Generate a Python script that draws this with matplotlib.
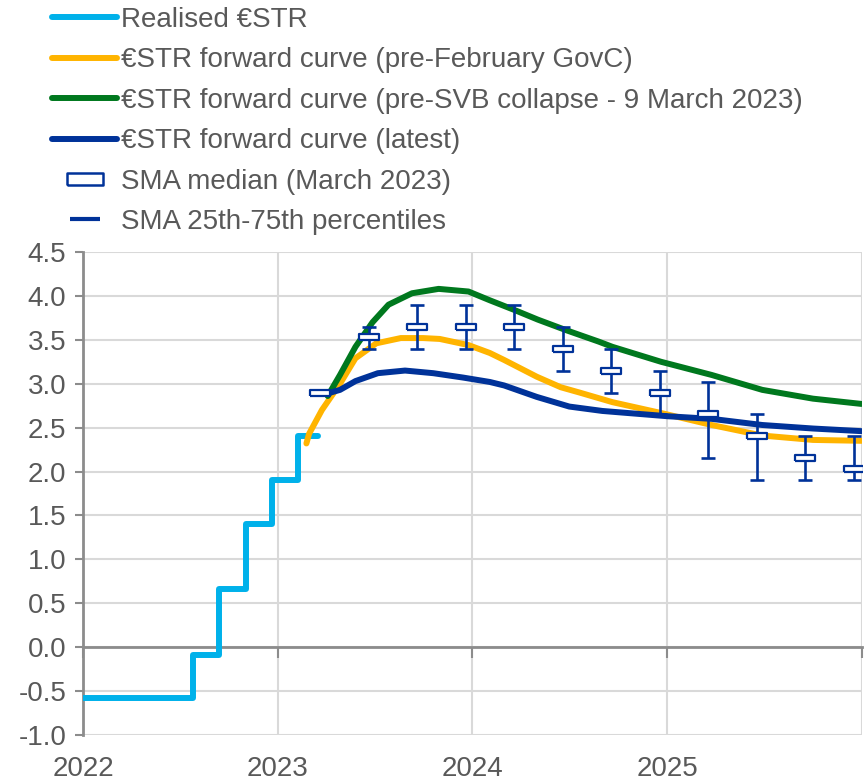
import matplotlib
matplotlib.use("Agg")
import matplotlib.pyplot as plt
from matplotlib.lines import Line2D
import pandas as pd
import numpy as np

plt.rcParams['font.family'] = ['Liberation Sans', 'DejaVu Sans']

# realised €STR (step levels, post)
estr_dates = ['2022-01-01', '2022-07-27', '2022-09-14', '2022-11-02',
              '2022-12-21', '2023-02-08', '2023-03-17']
estr_levels = [-0.58, -0.09, 0.66, 1.40, 1.90, 2.40, 2.40]

# forward curve pre-February GovC
pre_feb_dates = ['2023-02-24', '2023-03-01', '2023-03-25', '2023-04-28', '2023-05-27',
                 '2023-07-05', '2023-08-20', '2023-10-01', '2023-11-01', '2023-12-25',
                 '2024-02-03', '2024-03-01', '2024-05-01', '2024-06-15', '2024-07-20',
                 '2024-09-20', '2024-12-25', '2025-03-25', '2025-06-28', '2025-10-01',
                 '2025-12-31']
pre_feb_values = [2.32, 2.43, 2.70, 3.00, 3.29, 3.46, 3.52, 3.52, 3.51, 3.44,
                  3.35, 3.27, 3.08, 2.96, 2.90, 2.79, 2.66, 2.53, 2.41, 2.36, 2.35]

# forward curve pre-SVB collapse (9 March 2023)
pre_svb_dates = ['2023-04-05', '2023-04-28', '2023-05-27', '2023-06-28', '2023-07-28',
                 '2023-09-10', '2023-10-30', '2023-12-25', '2024-02-03', '2024-03-20',
                 '2024-05-03', '2024-06-25', '2024-08-25', '2024-09-20', '2024-12-20',
                 '2025-03-25', '2025-06-28', '2025-10-01', '2025-12-31']
pre_svb_values = [2.86, 3.10, 3.42, 3.70, 3.90, 4.03, 4.08, 4.05, 3.95, 3.84,
                  3.73, 3.61, 3.48, 3.42, 3.25, 3.10, 2.93, 2.83, 2.77]

# forward curve latest
latest_dates = ['2023-04-05', '2023-04-28', '2023-05-27', '2023-07-08', '2023-08-28',
                '2023-10-20', '2023-12-15', '2024-02-03', '2024-03-01', '2024-05-01',
                '2024-07-01', '2024-09-01', '2024-11-01', '2025-01-01', '2025-03-25',
                '2025-06-28', '2025-10-01', '2025-12-31']
latest_values = [2.89, 2.93, 3.03, 3.12, 3.15, 3.12, 3.07, 3.02, 2.98, 2.85,
                 2.74, 2.69, 2.66, 2.63, 2.60, 2.53, 2.49, 2.46]

# SMA March 2023
sma_dates = ['2023-03-22', '2023-06-21', '2023-09-20', '2023-12-20', '2024-03-20',
             '2024-06-19', '2024-09-18', '2024-12-18', '2025-03-19', '2025-06-18',
             '2025-09-17', '2025-12-17']
sma_median = [2.90, 3.53, 3.65, 3.65, 3.65, 3.40, 3.15, 2.90, 2.65, 2.40, 2.15, 2.03]
sma_p25 = [2.90, 3.40, 3.40, 3.40, 3.40, 3.15, 2.90, 2.65, 2.15, 1.90, 1.90, 1.90]
sma_p75 = [2.90, 3.65, 3.90, 3.90, 3.90, 3.65, 3.40, 3.15, 3.02, 2.65, 2.40, 2.40]

year_ticks = ['2022', '2023', '2024', '2025', '2026']
year_labels = ['2022', '2023', '2024', '2025', '']
y_ticks = np.arange(-1.0, 4.51, 0.5)

LIGHT_BLUE = '#00B1EA'
YELLOW = '#FFB400'
GREEN = '#00781E'
DARK_BLUE = '#003299'
GREY_TXT = '#595959'
GREY_AX = '#8C8C8C'
GRID = '#D9D9D9'

fig = plt.figure(figsize=(8.64, 7.82), dpi=100)
ax = fig.add_axes([83 / 864, 47 / 782, 779 / 864, 483 / 782])

lw = 4.3
ax.plot(pd.to_datetime(estr_dates), estr_levels, color=LIGHT_BLUE, lw=lw,
        drawstyle='steps-post', solid_capstyle='round', solid_joinstyle='round', zorder=3)
ax.plot(pd.to_datetime(pre_feb_dates), pre_feb_values, color=YELLOW, lw=lw,
        solid_capstyle='round', solid_joinstyle='round', zorder=3)
ax.plot(pd.to_datetime(pre_svb_dates), pre_svb_values, color=GREEN, lw=lw,
        solid_capstyle='round', solid_joinstyle='round', zorder=3)
ax.plot(pd.to_datetime(latest_dates), latest_values, color=DARK_BLUE, lw=lw,
        solid_capstyle='round', solid_joinstyle='round', zorder=4)

med = np.array(sma_median)
yerr = [med - np.array(sma_p25), np.array(sma_p75) - med]
ax.errorbar(pd.to_datetime(sma_dates), sma_median, yerr=yerr, fmt='none',
            ecolor=DARK_BLUE, elinewidth=1.9, capsize=4.8, capthick=1.9, zorder=5)
rect = [(-1.8, -0.5), (1.8, -0.5), (1.8, 0.5), (-1.8, 0.5), (-1.8, -0.5)]
ax.plot(pd.to_datetime(sma_dates), sma_median, linestyle='none', marker=rect,
        markersize=14, markerfacecolor='white', markeredgecolor=DARK_BLUE,
        markeredgewidth=1.6, zorder=6)

# axes styling
ax.set_xlim(pd.Timestamp('2022-01-01'), pd.Timestamp('2026-01-01'))
ax.set_ylim(-1.0, 4.5)
ax.set_yticks(y_ticks)
ax.set_yticklabels([f'{v:.1f}' for v in y_ticks])
ax.set_xticks(pd.to_datetime(year_ticks))
ax.set_xticklabels(year_labels)

ax.grid(True, color=GRID, lw=1.5, zorder=0)
ax.set_axisbelow(True)
for s in ['right', 'bottom']:
    ax.spines[s].set_visible(False)
ax.spines['left'].set_color(GREY_AX)
ax.spines['left'].set_linewidth(2)
ax.spines['top'].set_position(('data', 0))
ax.spines['top'].set_color(GREY_AX)
ax.spines['top'].set_linewidth(2)

ax.tick_params(axis='y', direction='out', length=6, width=1.5, color=GREY_AX,
               labelsize=20, labelcolor=GREY_TXT, pad=6)
ax.tick_params(axis='x', top=True, bottom=False, labeltop=False, labelbottom=True,
               direction='in', length=8, width=1.5, color=GREY_AX,
               labelsize=20, labelcolor=GREY_TXT, pad=15)

# legend
rect_leg = [(-1.5, -0.5), (1.5, -0.5), (1.5, 0.5), (-1.5, 0.5), (-1.5, -0.5)]
handles = [
    Line2D([], [], color=LIGHT_BLUE, lw=lw, solid_capstyle='round'),
    Line2D([], [], color=YELLOW, lw=lw, solid_capstyle='round'),
    Line2D([], [], color=GREEN, lw=lw, solid_capstyle='round'),
    Line2D([], [], color=DARK_BLUE, lw=lw, solid_capstyle='round'),
    Line2D([], [], linestyle='none', marker=rect_leg, markersize=26,
           markerfacecolor='white', markeredgecolor=DARK_BLUE, markeredgewidth=1.8),
    Line2D([], [], linestyle='none', marker='_', markersize=22,
           markeredgecolor=DARK_BLUE, markeredgewidth=3),
]
labels = ['Realised €STR',
          '€STR forward curve (pre-February GovC)',
          '€STR forward curve (pre-SVB collapse - 9 March 2023)',
          '€STR forward curve (latest)',
          'SMA median (March 2023)',
          'SMA 25th-75th percentiles']
leg = fig.legend(handles, labels, loc='upper left', bbox_to_anchor=(52 / 864, 1 - 7 / 782),
                 frameon=False, fontsize=20, handlelength=2.35, handletextpad=0.15,
                 labelspacing=0.52, borderpad=0.0, borderaxespad=0.0)
for t in leg.get_texts():
    t.set_color(GREY_TXT)

fig.savefig('out.png', dpi=100)
